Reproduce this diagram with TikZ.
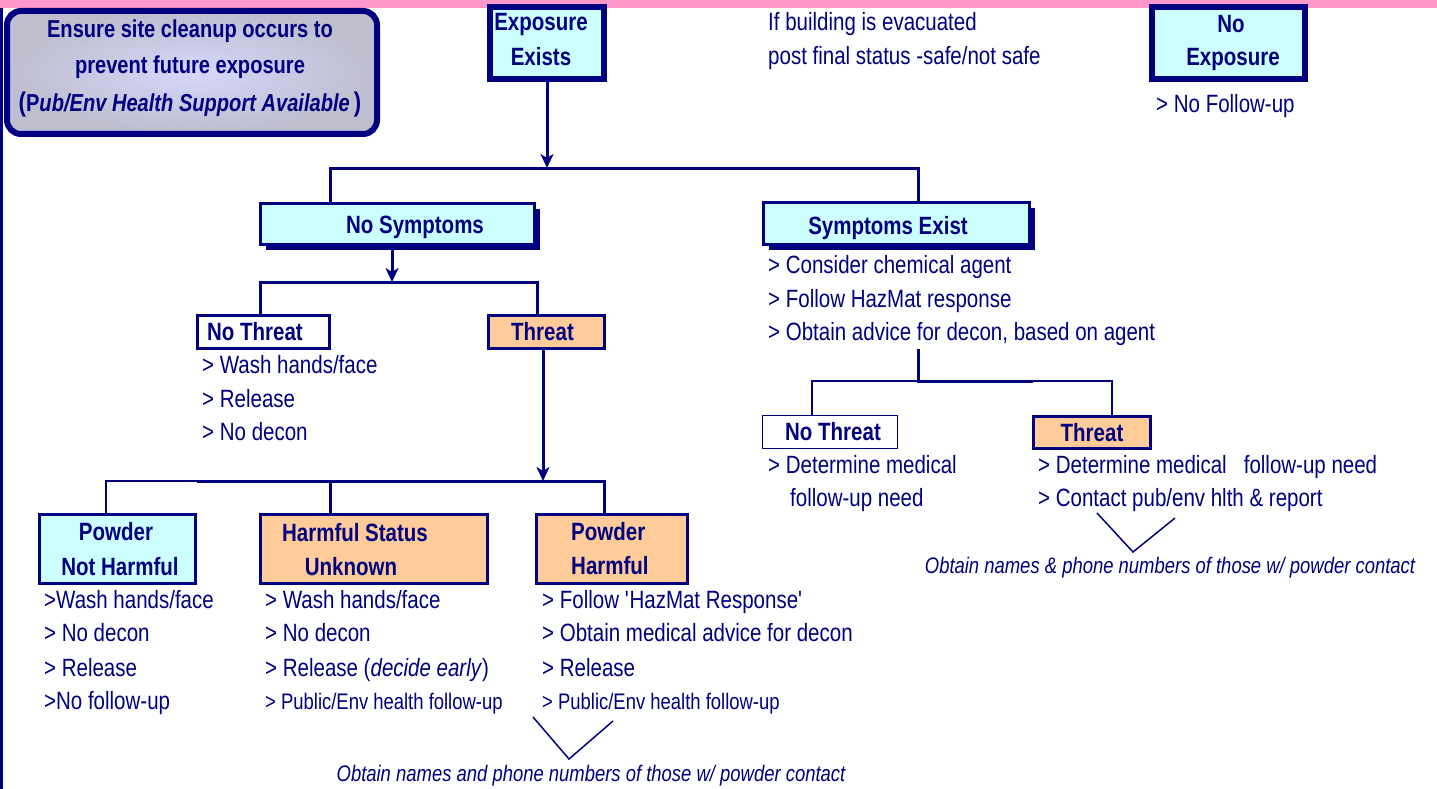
\documentclass[tikz,border=0pt]{standalone}
\usepackage{fontspec}
\setmainfont{Liberation Sans}[FakeStretch=0.82]
\usetikzlibrary{arrows.meta,shadows}
\definecolor{navy}{RGB}{0,0,128}
\definecolor{cyanf}{HTML}{CCFFFF}
\definecolor{orangef}{HTML}{FFCC99}
\definecolor{pinkbar}{HTML}{FF99CC}
\definecolor{lavin}{HTML}{D6D6FC}
\definecolor{lavout}{HTML}{BEBECE}
\begin{document}
\begin{tikzpicture}[x=1pt,y=-1pt,
  body/.style={font=\fontsize{25}{30}\selectfont, text=navy, inner sep=0pt, anchor=base west},
  small/.style={font=\fontsize{22.5}{27}\selectfont, text=navy, inner sep=0pt, anchor=base west},
  capt/.style={font=\fontsize{22.5}{27}\selectfont\itshape, text=navy, inner sep=0pt, anchor=base},
  title/.style={font=\fontsize{25}{30}\selectfont\bfseries, text=navy, inner sep=0pt, anchor=base},
  titlew/.style={title, anchor=base west},
  boxbase/.style={draw=navy, line width=3pt, inner sep=0pt},
  cyanbox/.style={boxbase, fill=cyanf},
  orangebox/.style={boxbase, fill=orangef},
  whitebox/.style={boxbase, fill=white},
  heavybox/.style={draw=navy, line width=6pt, fill=cyanf, inner sep=0pt},
  shadowbox/.style={cyanbox, drop shadow={shadow xshift=5pt, shadow yshift=-5pt, fill=navy, opacity=1}},
  conn/.style={draw=navy, line width=3pt},
  thinln/.style={draw=navy, line width=1.5pt},
  arr/.style={conn, -{Stealth[length=14pt,width=13pt,inset=4pt]}},
]
\useasboundingbox (0,0) rectangle (1437,789);
\fill[pinkbar] (0,0) rectangle (1437,8);
\fill[navy] (0,8) rectangle (3,789);

% cleanup box
\node[draw=navy, line width=6pt, rounded corners=14pt, inner color=lavin, outer color=lavout,
      minimum width=370pt, minimum height=123pt, inner sep=0pt] (clean) at (192,72.5) {};
\node[title, font=\fontsize{24.5}{30}\selectfont\bfseries] (cl1) at (190,38) {Ensure site cleanup occurs to};
\node[title, font=\fontsize{24.5}{30}\selectfont\bfseries] (cl2) at (190,74) {prevent future exposure};
\node[title, font=\fontsize{24.5}{30}\selectfont\bfseries] (cl3) at (190,112) {{\fontsize{27}{30}\selectfont(}P\textit{ub/Env Health Support Available}\,{\fontsize{27}{30}\selectfont)}};

% top boxes
\node[heavybox, minimum width=114pt, minimum height=72pt] (exex) at (547,43) {};
\node[title] (exex1) at (541,31) {Exposure};
\node[title] (exex2) at (541,66) {Exists};

\node[heavybox, minimum width=153pt, minimum height=72pt] (noexp) at (1228.5,43) {};
\node[title] (noexp1) at (1231,33) {No};
\node[title] (noexp2) at (1233,66) {Exposure};
\node[body] (nofu) at (1156,113) {> No Follow-up};

\node[body] (evac1) at (768,31) {If building is evacuated};
\node[body] (evac2) at (768,65) {post final status -safe/not safe};

% symptoms level
\node[shadowbox, minimum width=274pt, minimum height=41pt] (nosym) at (397.5,224) {};
\node[title] (nosymt) at (415,233) {No Symptoms};
\node[shadowbox, minimum width=266pt, minimum height=42pt] (symex) at (896.5,223.5) {};
\node[title] (symext) at (888,234) {Symptoms Exist};

\coordinate (b1M) at (547,168);
\coordinate (b1L) at (330,168);
\coordinate (b1R) at (918,168);
\draw[arr] (exex.south) -- (b1M);
\draw[conn] (nosym.north -| b1L) -- (b1L) -- (b1R) -- (symex.north -| b1R);

\node[body] (se1) at (768,273) {> Consider chemical agent};
\node[body] (se2) at (768,307) {> Follow HazMat response};
\node[body] (se3) at (768,340) {> Obtain advice for decon, based on agent};

% no symptoms branch
\node[whitebox, minimum width=132pt, minimum height=33pt] (nothrL) at (263.5,332) {};
\node[title] (nothrLt) at (255,340) {No Threat};
\node[orangebox, minimum width=116pt, minimum height=33pt] (thrL) at (546.5,332) {};
\node[title] (thrLt) at (542.5,340) {Threat};

\coordinate (b2M) at (392,282);
\coordinate (b2L) at (260,282);
\coordinate (b2R) at (537,282);
\draw[arr] (nosym.south -| b2M) -- (b2M);
\draw[conn] (nothrL.north -| b2L) -- (b2L) -- (b2R) -- (thrL.north -| b2R);

\node[body] (nt1) at (202,373) {> Wash hands/face};
\node[body] (nt2) at (202,407) {> Release};
\node[body] (nt3) at (202,440) {> No decon};

% bottom boxes
\node[cyanbox, minimum width=156pt, minimum height=69pt] (pnh) at (117.5,549) {};
\node[title] (pnh1) at (116,540) {Powder};
\node[title] (pnh2) at (120,575) {Not Harmful};
\node[orangebox, minimum width=227pt, minimum height=69pt] (hsu) at (374,549) {};
\node[title] (hsu1) at (355,541) {Harmful Status};
\node[title] (hsu2) at (351,575) {Unknown};
\node[orangebox, minimum width=151pt, minimum height=69pt] (ph) at (612,549) {};
\node[titlew] (ph1) at (571,540) {Powder};
\node[titlew] (ph2) at (571,574) {Harmful};

\coordinate (b3M) at (543,481);
\coordinate (b3L) at (106,481);
\coordinate (b3T) at (197,481);
\coordinate (b3C) at (330,481);
\coordinate (b3R) at (604,481);
\draw[arr] (thrL.south -| b3M) -- (b3M);
\draw[thinln] (pnh.north -| b3L) -- (b3L) -- (b3T);
\draw[conn] (b3T) -- (b3R) -- (ph.north -| b3R);
\draw[conn] (b3C) -- (hsu.north -| b3C);

\node[body] (p1) at (44,608) {>Wash hands/face};
\node[body] (p2) at (44,641) {> No decon};
\node[body] (p3) at (44,676) {> Release};
\node[body] (p4) at (44,709) {>No follow-up};

\node[body] (h1) at (265,608) {> Wash hands/face};
\node[body] (h2) at (265,641) {> No decon};
\node[body] (h3) at (265,676) {> Release (\textit{decide early})};
\node[small] (h4) at (265,709) {> Public/Env health follow-up};

\node[body] (f1) at (542,608) {> Follow \textquotesingle HazMat Response\textquotesingle};
\node[body] (f2) at (542,641) {> Obtain medical advice for decon};
\node[body] (f3) at (542,676) {> Release};
\node[small] (f4) at (542,709) {> Public/Env health follow-up};

\coordinate (v1a) at (533,717);
\coordinate (v1b) at (569,759);
\coordinate (v1c) at (613,721);
\draw[thinln] (v1a) -- (v1b) -- (v1c);
\node[capt] (cap1) at (591,781) {Obtain names and phone numbers of those w/ powder contact};

% symptoms exist branch
\coordinate (sx) at (918,349);
\coordinate (b4M) at (918,381);
\coordinate (b4L) at (812,381);
\coordinate (b4a) at (1033,381);
\coordinate (b4R) at (1112,381);
\node[whitebox, line width=1.5pt, minimum width=135pt, minimum height=33pt] (nothrR) at (830,432) {};
\node[title] (nothrRt) at (833,440) {No Threat};
\node[orangebox, minimum width=117pt, minimum height=32pt] (thrR) at (1092,432) {};
\node[title] (thrRt) at (1092,441) {Threat};
\draw[conn] (sx) -- (b4M) -- (b4a);
\draw[thinln] (nothrR.north -| b4L) -- (b4L) -- (b4M);
\draw[thinln] (b4a) -- (b4R) -- (thrR.north -| b4R);

\node[body] (r1) at (768,473) {> Determine medical};
\node[body] (r2) at (790,506) {follow-up need};
\node[body] (r3) at (1038,473) {> Determine medical\ \ \ follow-up need};
\node[body] (r4) at (1038,506) {> Contact pub/env hlth \& report};

\coordinate (v2a) at (1097,513);
\coordinate (v2b) at (1133,552);
\coordinate (v2c) at (1175,518);
\draw[thinln] (v2a) -- (v2b) -- (v2c);
\node[capt] (cap2) at (1170,573) {Obtain names \& phone numbers of those w/ powder contact};
\end{tikzpicture}
\end{document}
